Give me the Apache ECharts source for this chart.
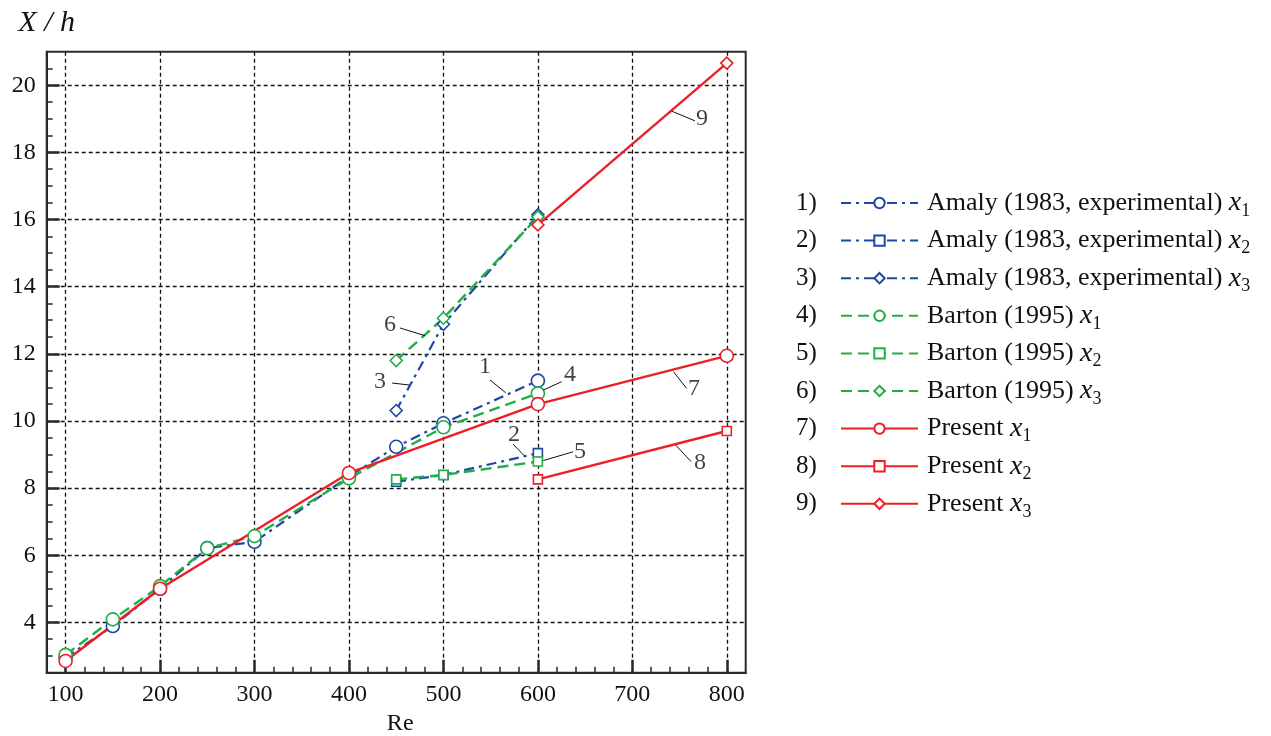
<!DOCTYPE html>
<html>
<head>
<meta charset="utf-8">
<script src="https://cdn.jsdelivr.net/npm/echarts@6/dist/echarts.min.js"></script>
<style>html,body{margin:0;padding:0;background:#fff;}#c{width:1271px;height:736px;}</style>
</head>
<body>
<div id="c"></div>
<script>
// ---- data ----
const reAmalyX1 = [100, 150, 200, 250, 300, 400, 450, 500, 600];
const amalyX1   = [2.95, 3.89, 5.0, 6.21, 6.4, 8.35, 9.23, 9.93, 11.2];
const reAmalyX2 = [450, 500, 600];
const amalyX2   = [8.19, 8.39, 9.04];
const reAmalyX3 = [450, 500, 600];
const amalyX3   = [10.31, 12.88, 16.14];

const reBartonX1 = [100, 150, 200, 250, 300, 400, 500, 600];
const bartonX1   = [3.03, 4.09, 5.08, 6.21, 6.57, 8.29, 9.81, 10.82];
const reBartonX2 = [450, 500, 600];
const bartonX2   = [8.26, 8.39, 8.79];
const reBartonX3 = [450, 500, 600];
const bartonX3   = [11.8, 13.06, 16.08];

const rePresentX1 = [100, 200, 400, 600, 800];
const presentX1   = [2.85, 5.0, 8.45, 10.5, 11.94];
const rePresentX2 = [600, 800];
const presentX2   = [8.26, 9.7];
const rePresentX3 = [600, 800];
const presentX3   = [15.84, 20.66];

const xMajorTicks = [100, 200, 300, 400, 500, 600, 700, 800];
const xMinorTicks = [120, 140, 160, 180, 220, 240, 260, 280, 320, 340, 360, 380, 420, 440, 460, 480,
                     520, 540, 560, 580, 620, 640, 660, 680, 720, 740, 760, 780];
const yMajorTicks = [4, 6, 8, 10, 12, 14, 16, 18, 20];
const yMinorTicks = [3, 3.5, 4.5, 5, 5.5, 6.5, 7, 7.5, 8.5, 9, 9.5, 10.5, 11, 11.5, 12.5, 13, 13.5,
                     14.5, 15, 15.5, 16.5, 17, 17.5, 18.5, 19, 19.5, 20.5];

const seriesNames = [
  'Amaly (1983, experimental) x1', 'Amaly (1983, experimental) x2', 'Amaly (1983, experimental) x3',
  'Barton (1995) x1', 'Barton (1995) x2', 'Barton (1995) x3',
  'Present x1', 'Present x2', 'Present x3'
];

// annotation numbers with leader lines (data coordinates)
const annotLabels = ['1', '2', '3', '4', '5', '6', '7', '8', '9'];
const annotText   = [[544, 11.62], [574.7, 9.58], [432.9, 11.17], [634, 11.37], [644.6, 9.08],
                     [443.4, 12.86], [765.3, 10.95], [771.6, 8.75], [773.7, 18.99]];
const annotFrom   = [[549.3, 11.22], [573.7, 9.31], [445.6, 11.13], [605.7, 10.92], [605.7, 8.82],
                     [454, 12.77], [743.4, 11.47], [745.9, 9.28], [741.6, 19.23]];
const annotTo     = [[565.9, 10.84], [586.4, 8.94], [463.9, 11.07], [625.2, 11.17], [637.2, 9.08],
                     [480.5, 12.54], [757.5, 10.97], [762.1, 8.79], [766.3, 18.94]];

// ---- styles ----
const FONT = 'Liberation Serif';
const INK = '#111';
const BLUE = '#1f47a6', GREEN = '#22ad45', RED = '#ec1f28';
const dashDot = [10, 5, 3, 5];
const dashed = [11, 6];

function pairs(xs, ys) { return xs.map((x, i) => [x, ys[i]]); }

function mkSeries(name, xs, ys, color, type, width, symbol, size) {
  return {
    name, type: 'line', data: pairs(xs, ys),
    symbol, symbolSize: size, showSymbol: true,
    lineStyle: { color, width, type },
    itemStyle: { color: '#fff', borderColor: color, borderWidth: 1.6 },
    emphasis: { disabled: true },
    animation: false,
    z: 3
  };
}

const series = [
  mkSeries(seriesNames[0], reAmalyX1, amalyX1, BLUE, dashDot, 2.2, 'circle', 13),
  mkSeries(seriesNames[1], reAmalyX2, amalyX2, BLUE, dashDot, 2.2, 'rect', 9),
  mkSeries(seriesNames[2], reAmalyX3, amalyX3, BLUE, dashDot, 2.2, 'diamond', 12),
  mkSeries(seriesNames[3], reBartonX1, bartonX1, GREEN, dashed, 2.4, 'circle', 13),
  mkSeries(seriesNames[4], reBartonX2, bartonX2, GREEN, dashed, 2.4, 'rect', 9),
  mkSeries(seriesNames[5], reBartonX3, bartonX3, GREEN, dashed, 2.4, 'diamond', 12),
  mkSeries(seriesNames[6], rePresentX1, presentX1, RED, 'solid', 2.4, 'circle', 13),
  mkSeries(seriesNames[7], rePresentX2, presentX2, RED, 'solid', 2.4, 'rect', 9),
  mkSeries(seriesNames[8], rePresentX3, presentX3, RED, 'solid', 2.4, 'diamond', 12)
];

series.push({
  name: 'annot', type: 'scatter', symbolSize: 0, animation: false, silent: true,
  data: annotLabels.map((l, i) => ({ name: l, value: annotText[i] })),
  label: { show: true, position: 'inside', formatter: '{b}', fontFamily: FONT, fontSize: 24, color: INK },
  markLine: {
    silent: true, symbol: ['none', 'none'], animation: false,
    label: { show: false },
    lineStyle: { color: INK, width: 1, type: 'solid' },
    data: annotLabels.map((l, i) => [{ coord: annotFrom[i] }, { coord: annotTo[i] }])
  },
  z: 4
});

function legendFmt(name) {
  const m = name.match(/^(.*) x(\d)$/);
  return '{g|}' + m[1] + ' {i|x}{s|' + m[2] + '}';
}

const option = {
  backgroundColor: '#fff',
  textStyle: { fontFamily: FONT },
  grid: {
    left: 46.7, top: 51.7, right: 525.3, bottom: 63.3,
    outerBoundsMode: 'none', containLabel: false,
    show: true, borderColor: '#2a2a2a', borderWidth: 2, backgroundColor: 'transparent'
  },
  legend: [
    {
      data: seriesNames, orient: 'vertical', left: 835, top: 181,
      itemWidth: 77, itemHeight: 13, itemGap: 3.6, selectedMode: false,
      formatter: legendFmt,
      textStyle: {
        fontFamily: FONT, fontSize: 26, color: INK, lineHeight: 34,
        rich: {
          g: { width: 4 },
          i: { fontFamily: FONT, fontStyle: 'italic', fontSize: 28, lineHeight: 34, color: INK },
          s: { fontFamily: FONT, fontSize: 18, lineHeight: 16, verticalAlign: 'bottom', color: INK }
        }
      }
    },
    {
      data: seriesNames, orient: 'vertical', left: 786, top: 181,
      itemWidth: 0, itemHeight: 13, itemGap: 3.6, icon: 'none', selectedMode: false,
      formatter: (n) => (seriesNames.indexOf(n) + 1) + ')',
      textStyle: { fontFamily: FONT, fontSize: 25, color: INK, lineHeight: 34 }
    }
  ],
  xAxis: [
    {
      type: 'value', min: 80, max: 820, position: 'bottom',
      name: 'Re', nameLocation: 'middle', nameGap: 38,
      nameTextStyle: { fontFamily: FONT, fontSize: 24, color: INK, padding: [0, 0, 0, 8] },
      axisLine: { show: true, onZero: false, lineStyle: { color: '#2a2a2a', width: 2 } },
      axisTick: { show: true, inside: true, length: 13, customValues: xMajorTicks, lineStyle: { color: '#2a2a2a', width: 2.5 } },
      axisLabel: { show: true, customValues: xMajorTicks, margin: 10, fontFamily: FONT, fontSize: 24, color: INK },
      splitLine: { show: true, lineStyle: { color: '#111', width: 1.3, type: [4, 3] } }
    },
    {
      type: 'value', min: 80, max: 820, position: 'bottom', offset: 0,
      axisLine: { show: false },
      axisTick: { show: true, inside: true, length: 6, customValues: xMinorTicks, lineStyle: { color: '#2a2a2a', width: 1.5 } },
      axisLabel: { show: false },
      splitLine: { show: false }
    }
  ],
  yAxis: [
    {
      type: 'value', min: 2.5, max: 21, position: 'left',
      name: 'X / h', nameLocation: 'end', nameGap: 14,
      nameTextStyle: { fontFamily: FONT, fontSize: 30, fontStyle: 'italic', color: INK, align: 'center', verticalAlign: 'bottom' },
      axisLine: { show: true, onZero: false, lineStyle: { color: '#2a2a2a', width: 2 } },
      axisTick: { show: true, inside: true, length: 13, customValues: yMajorTicks, lineStyle: { color: '#2a2a2a', width: 2.5 } },
      axisLabel: { show: true, customValues: yMajorTicks, margin: 11, fontFamily: FONT, fontSize: 24, color: INK },
      splitLine: { show: true, lineStyle: { color: '#111', width: 1.3, type: [4, 3] } }
    },
    {
      type: 'value', min: 2.5, max: 21, position: 'left', offset: 0,
      axisLine: { show: false },
      axisTick: { show: true, inside: true, length: 6, customValues: yMinorTicks, lineStyle: { color: '#2a2a2a', width: 1.5 } },
      axisLabel: { show: false },
      splitLine: { show: false }
    }
  ],
  series
};

const chart = echarts.init(document.getElementById('c'), null, { renderer: 'canvas' });
chart.setOption(option);
</script>
</body>
</html>
